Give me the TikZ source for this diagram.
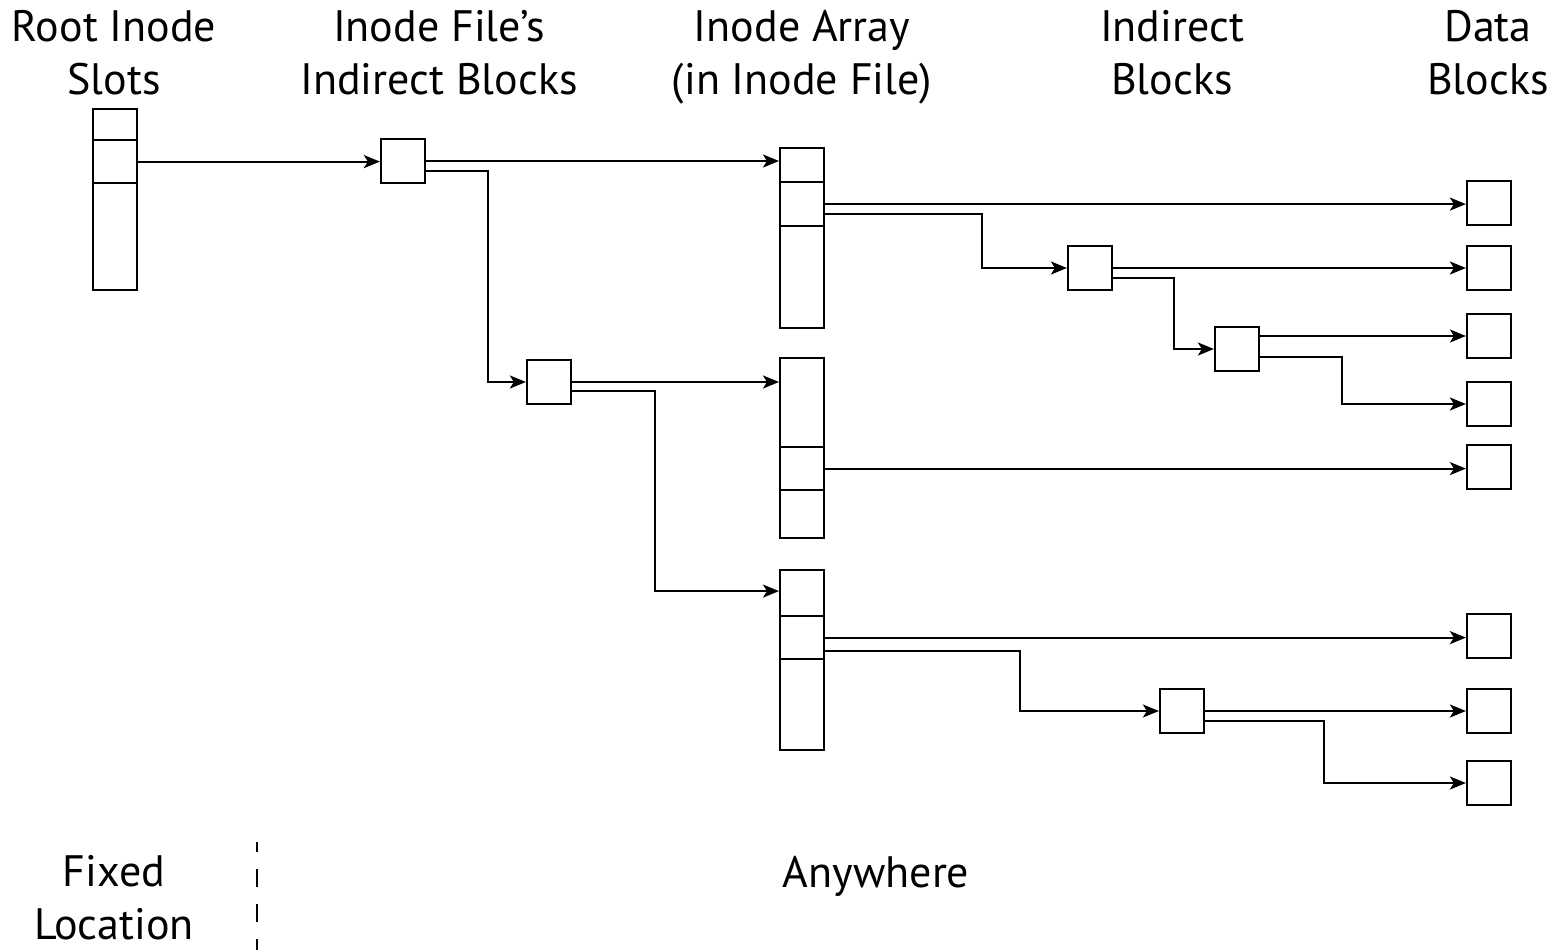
\documentclass[tikz,border=0pt]{standalone}
\usepackage{fontspec}
\setmainfont{PT Sans}
\usetikzlibrary{arrows.meta}
\begin{document}
\begin{tikzpicture}[x=1pt,y=-1pt,
  line width=2.2pt,
  cell/.style={draw, rectangle, inner sep=0pt, minimum width=44pt, anchor=north west},
  blk/.style={draw, rectangle, inner sep=0pt, minimum width=44pt, minimum height=44pt},
  arr/.style={-{Stealth[length=16pt,width=13pt,inset=4pt]}},
  title/.style={align=center, font=\fontsize{44}{53}\selectfont, anchor=base},
  divider/.style={dash pattern=on 18pt off 17pt, dash phase=8pt}
]
\useasboundingbox (0,0) rectangle (1561,950);

% column titles (anchored at the baseline of the last line)
\node[title] (tRoot) at (114,94) {Root Inode\\Slots};
\node[title] (tIfile) at (439,94) {Inode File’s\\Indirect Blocks};
\node[title] (tArray) at (802,94) {Inode Array\\(in Inode File)};
\node[title] (tInd) at (1172,94) {Indirect\\Blocks};
\node[title] (tData) at (1488,94) {Data\\Blocks};

% root inode slots
\node[cell, minimum height=31pt] (r1) at (92,108) {};
\node[cell, minimum height=43pt] (r2) at (92,139) {};
\node[cell, minimum height=107pt] (r3) at (92,182) {};

% inode file's indirect blocks
\node[blk] (f1) at (403,161) {};
\node[blk] (f2) at (549,382) {};

% inode array pieces
\node[cell, minimum height=34pt] (a1c1) at (779,147) {};
\node[cell, minimum height=44pt] (a1c2) at (779,181) {};
\node[cell, minimum height=102pt] (a1c3) at (779,225) {};

\node[cell, minimum height=89pt] (a2c1) at (779,357) {};
\node[cell, minimum height=43pt] (a2c2) at (779,446) {};
\node[cell, minimum height=48pt] (a2c3) at (779,489) {};

\node[cell, minimum height=46pt] (a3c1) at (779,569) {};
\node[cell, minimum height=43pt] (a3c2) at (779,615) {};
\node[cell, minimum height=91pt] (a3c3) at (779,658) {};

% indirect blocks
\node[blk] (i1) at (1090,268) {};
\node[blk] (i2) at (1237,349) {};
\node[blk] (i3) at (1182,711) {};

% data blocks
\node[blk] (d1) at (1489,203) {};
\node[blk] (d2) at (1489,268) {};
\node[blk] (d3) at (1489,336) {};
\node[blk] (d4) at (1489,404) {};
\node[blk] (d5) at (1489,467) {};
\node[blk] (d6) at (1489,636) {};
\node[blk] (d7) at (1489,711) {};
\node[blk] (d8) at (1489,783) {};

% pointers
\draw[arr] (r2.east) -- (r2.east -| f1.west);
\draw[arr] (f1.east) -- (f1.east -| a1c1.west);
\draw[arr] ([yshift=-10pt]f1.east) -- ++(62,0) |- (f2.west);
\draw[arr] (f2.east) -- (f2.east -| a2c1.west);
\draw[arr] ([yshift=-9pt]f2.east) -- ++(83,0) |- ([yshift=2pt]a3c1.west);

\draw[arr] (a1c2.east) -- (a1c2.east -| d1.west);
\draw[arr] ([yshift=-10pt]a1c2.east) -- ++(157,0) |- (i1.west);
\draw[arr] (i1.east) -- (i1.east -| d2.west);
\draw[arr] ([yshift=-10pt]i1.east) -- ++(61,0) |- (i2.west);
\draw[arr] ([yshift=13pt]i2.east) -- (d3.west);
\draw[arr] ([yshift=-8pt]i2.east) -- ++(82,0) |- (d4.west);

\draw[arr] (a2c2.east) -- (a2c2.east -| d5.west);

\draw[arr] (a3c2.east) -- (a3c2.east -| d6.west);
\draw[arr] ([yshift=-13pt]a3c2.east) -- ++(195,0) |- (i3.west);
\draw[arr] (i3.east) -- (i3.east -| d7.west);
\draw[arr] ([yshift=-10pt]i3.east) -- ++(119,0) |- (d8.west);

% fixed / anywhere split
\coordinate (splitTop) at (257,842);
\coordinate (splitBot) at (257,950);
\draw[divider] (splitTop) -- (splitBot);
\node[title] (tFixed) at (114,939) {Fixed\\Location};
\node[title] (tAny) at (876,887) {Anywhere};
\end{tikzpicture}
\end{document}
